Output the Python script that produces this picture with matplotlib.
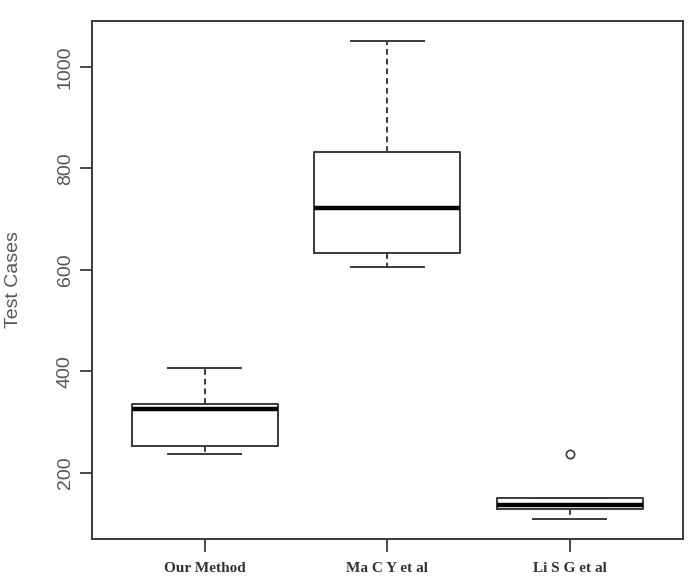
import matplotlib
matplotlib.use("Agg")
import matplotlib.pyplot as plt

# --- Data ---
methods = ["Our Method", "Ma C Y et al", "Li S G et al"]
whisker_low = [237, 605, 110]
box_q1 = [253, 634, 128]
box_median = [325, 721, 137]
box_q3 = [335, 832, 151]
whisker_high = [407, 1050, 151]
outliers = [[], [], [237]]

stats = []
for i, name in enumerate(methods):
    stats.append(dict(label=name, whislo=whisker_low[i], q1=box_q1[i], med=box_median[i],
                      q3=box_q3[i], whishi=whisker_high[i], fliers=outliers[i]))

line_col = "#3a3a3a"

fig = plt.figure(figsize=(6.91, 5.87), dpi=100)
ax = fig.add_axes([0.133, 0.082, 0.855, 0.882])

ax.bxp(stats, positions=[1, 2, 3], widths=0.8, showfliers=True,
       boxprops=dict(color=line_col, linewidth=1.4),
       medianprops=dict(color="black", linewidth=3.2),
       whiskerprops=dict(color=line_col, linewidth=1.4, linestyle=(0, (3, 2))),
       capprops=dict(color=line_col, linewidth=1.4),
       capwidths=0.4,
       flierprops=dict(marker="o", markerfacecolor="none", markeredgecolor=line_col,
                       markersize=6, markeredgewidth=1.2))

ax.set_xlim(0.38, 3.62)
ax.set_ylim(70, 1090)
ax.set_yticks([200, 400, 600, 800, 1000])
ax.set_yticklabels(["200", "400", "600", "800", "1000"], rotation=90, va="center",
                   fontsize=14, family="Liberation Sans", color="#555555")
ax.set_xticks([1, 2, 3])
ax.set_xticklabels(methods, fontsize=11, family="Liberation Serif",
                   fontweight="bold", color="#333333")
ax.tick_params(axis="y", length=9, width=1.3, color=line_col, pad=4)
ax.tick_params(axis="x", length=9, width=1.3, color=line_col, pad=8)
for s in ax.spines.values():
    s.set_color(line_col)
    s.set_linewidth(1.4)

ax.set_ylabel("Test Cases", fontsize=14, family="Liberation Sans", color="#555555")
ax.yaxis.set_label_coords(-0.118, 0.5)

fig.savefig("out.png", dpi=100)
plt.close(fig)
